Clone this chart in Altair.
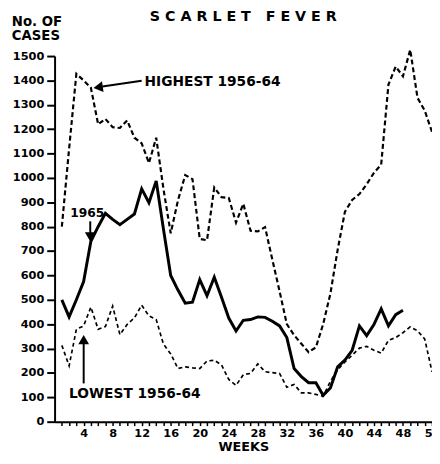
import altair as alt
import pandas as pd

# ---- data ----
weeks_1965 = list(range(1, 49))
cases_1965 = [500, 430, 500, 575, 740, 800, 855, 830, 808, 830, 852, 955,
              898, 988, 790, 600, 540, 486, 490, 583, 517, 593, 510, 425,
              372, 416, 419, 430, 428, 412, 393, 345, 218, 185, 160, 160,
              108, 138, 225, 253, 293, 393, 353, 399, 463, 393, 439, 457]

weeks_all = list(range(1, 53))
highest = [800, 1120, 1427, 1400, 1370, 1220, 1242, 1208, 1205, 1236, 1165, 1142,
           1061, 1165, 955, 773, 908, 1012, 995, 750, 744, 961, 921, 918,
           817, 894, 783, 781, 798, 665, 535, 400, 355, 320, 285, 305,
           400, 525, 705, 861, 910, 934, 974, 1021, 1055, 1383, 1457, 1417,
           1526, 1329, 1276, 1189]
lowest = [313, 229, 379, 393, 470, 379, 390, 474, 357, 399, 426, 478,
          434, 419, 318, 278, 218, 225, 221, 218, 249, 252, 233, 173,
          149, 193, 198, 237, 205, 201, 198, 141, 153, 118, 118, 112,
          104, 165, 213, 245, 273, 302, 309, 293, 281, 334, 345, 365,
          389, 373, 339, 205]

x_ticks = list(range(1, 53))
y_ticks = list(range(0, 1501, 100))

# annotation anchors (in data units)
label_text = ["HIGHEST 1956-64", "1965", "LOWEST 1956-64"]
label_week = [12.4, 4.51, 1.98]
label_cases = [1395, 855, 113]

arrow_week = [12.0, 4.915, 4.008]
arrow_cases = [1399, 822, 157]
arrow_week2 = [6.58, 4.915, 4.008]
arrow_cases2 = [1375, 774, 323]
head_week = [6.0, 4.915, 4.008]
head_cases = [1372, 758, 337]
head_shape = ["triangle-left", "triangle-down", "triangle-up"]
head_angle = [352, 0, 0]

FONT = "DejaVu Sans"
NB = "\u00a0"
title_text = (NB.join("SCARLET") + NB * 3 + NB.join("FEVER"))

df65 = pd.DataFrame({"week": weeks_1965, "cases": cases_1965})
dfhi = pd.DataFrame({"week": weeks_all, "cases": highest})
dflo = pd.DataFrame({"week": weeks_all, "cases": lowest})
dflab = pd.DataFrame({"week": label_week, "cases": label_cases, "label": label_text})
dfarr = pd.DataFrame({"week": arrow_week, "cases": arrow_cases,
                      "week2": arrow_week2, "cases2": arrow_cases2})
dfhead = pd.DataFrame({"week": head_week, "cases": head_cases,
                       "shape": head_shape, "angle": head_angle})

x_scale = alt.Scale(domain=[0, 52], nice=False, zero=False)
y_scale = alt.Scale(domain=[0, 1500], nice=False)

x_axis = alt.Axis(values=x_ticks,
                  labelExpr="datum.value % 4 == 0 ? datum.label : ''",
                  title="WEEKS", titleFont=FONT, titleFontSize=13, titleFontWeight="bold",
                  titlePadding=2, titleColor="black",
                  labelFont=FONT, labelFontSize=11.5, labelFontWeight="bold",
                  labelColor="black", labelPadding=2,
                  labelFlush=False, labelOverlap=False,
                  tickSize=4, tickWidth=1.5, tickColor="black",
                  domainWidth=2, domainColor="black", grid=False)
y_axis = alt.Axis(values=y_ticks, format="d", title=["No. OF", "CASES"],
                  titleAngle=0, titleAlign="left", titleBaseline="top",
                  titleX=-44, titleY=-42, titleLineHeight=14.5,
                  titleFont=FONT, titleFontSize=13.5, titleFontWeight="bold", titleColor="black",
                  labelFont=FONT, labelFontSize=11.5, labelFontWeight="bold",
                  labelColor="black", labelPadding=3,
                  labelFlush=False, labelOverlap=False,
                  tickSize=8, tickWidth=2, tickColor="black",
                  domainWidth=2, domainColor="black", grid=False)

X = alt.X("week:Q", scale=x_scale, axis=x_axis)
Y = alt.Y("cases:Q", scale=y_scale, axis=y_axis)

line65 = alt.Chart(df65).mark_line(color="black", strokeWidth=3).encode(x=X, y=Y)
linehi = alt.Chart(dfhi).mark_line(color="black", strokeWidth=2.2,
                                   strokeDash=[5, 3]).encode(x=X, y=Y)
linelo = alt.Chart(dflo).mark_line(color="black", strokeWidth=1.7,
                                   strokeDash=[4, 3]).encode(x=X, y=Y)

arrows = alt.Chart(dfarr).mark_rule(color="black", strokeWidth=2).encode(
    x=X, y=Y, x2="week2:Q", y2="cases2:Q")
heads = alt.Chart(dfhead).mark_point(filled=True, color="black", opacity=1,
                                     size=120).encode(
    x=X, y=Y,
    shape=alt.Shape("shape:N", scale=None),
    angle=alt.Angle("angle:Q", scale=None))

text_left = alt.Chart(dflab).transform_filter(
    "datum.label != '1965'").mark_text(
    align="left", baseline="middle", font=FONT, fontSize=14,
    fontWeight="bold", color="black").encode(x=X, y=Y, text="label:N")
text_center = alt.Chart(dflab).transform_filter(
    "datum.label == '1965'").mark_text(
    align="center", baseline="middle", font=FONT, fontSize=12.5,
    fontWeight="bold", color="black").encode(x=X, y=Y, text="label:N")

chart = alt.layer(linelo, linehi, line65, arrows, heads, text_left, text_center).properties(
    width=384, height=372,
    padding={"left": 47.4, "top": 45, "right": 0, "bottom": 30},
    autosize=alt.AutoSizeParams(type="none"),
    title=alt.Title(title_text, font=FONT, fontSize=14.5,
                    fontWeight="bold", color="black", anchor="middle", dy=14),
    background="white",
).configure_view(stroke=None)

chart.save("out.html", embed_options={"renderer": "svg", "actions": False})
